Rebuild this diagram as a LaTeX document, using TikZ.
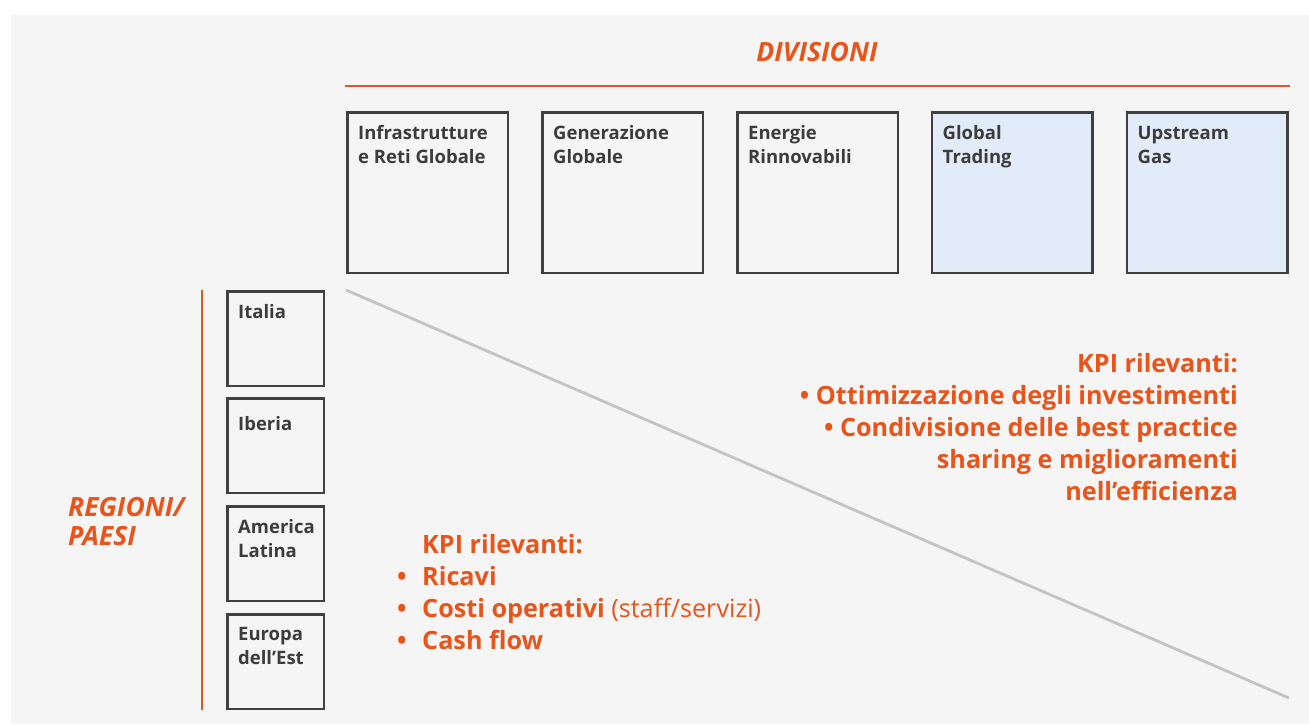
\documentclass[tikz,border=0pt]{standalone}
\usepackage{fontspec}
\setmainfont{Open Sans}

\definecolor{enelorange}{HTML}{E9541B}
\definecolor{boxgray}{HTML}{404040}
\definecolor{textgray}{HTML}{3C3C3C}
\definecolor{paper}{HTML}{F5F5F5}
\definecolor{divblue}{HTML}{E2ECF8}
\definecolor{rulegray}{HTML}{C4C4C4}

\begin{document}
\begin{tikzpicture}[
    x=1pt, y=-1pt,
    unitbox/.style={draw=boxgray, line width=2.5pt, fill=paper, inner sep=0pt},
    divbox/.style={unitbox, minimum width=160.5pt, minimum height=160.5pt},
    tradebox/.style={divbox, fill=divblue},
    regbox/.style={unitbox, minimum width=96.5pt, minimum height=94.5pt},
    boxtext/.style={anchor=base west, inner sep=0pt, align=left, text=textgray,
      font=\fontsize{18.5}{24}\selectfont\bfseries},
    heading/.style={inner sep=0pt, text=enelorange,
      font=\fontsize{26.5}{29}\selectfont\bfseries\itshape},
    kpi/.style={inner sep=0pt, text=enelorange,
      font=\fontsize{25.2}{32}\selectfont\bfseries},
    orangerule/.style={draw=enelorange, line width=2.6pt}
  ]

  % page and background
  \useasboundingbox (0,0) rectangle (1309,724);
  \fill[paper] (11,15) rectangle (1309,724);

  % divisions along the top
  \node[heading, anchor=base] (divtitle) at (817,61) {DIVISIONI};
  \coordinate (divl) at (345,86);
  \coordinate (divr) at (1290,86);
  \draw[orangerule] (divl) -- (divr);

  \node[divbox] (infra) at (427.5,192.5) {};
  \node[divbox] (gen) at (622.5,192.5) {};
  \node[divbox] (renew) at (817.5,192.5) {};
  \node[tradebox] (trading) at (1012,192.5) {};
  \node[tradebox] (upstream) at (1207,192.5) {};

  % base anchor sits on the last line, so two-line labels go 24pt lower
  \node[boxtext] at ([xshift=12pt,yshift=-52pt]infra.north west) {Infrastrutture\\e Reti Globale};
  \node[boxtext] at ([xshift=12pt,yshift=-52pt]gen.north west) {Generazione\\Globale};
  \node[boxtext] at ([xshift=12pt,yshift=-52pt]renew.north west) {Energie\\Rinnovabili};
  \node[boxtext] at ([xshift=12pt,yshift=-52pt]trading.north west) {Global\\Trading};
  \node[boxtext] at ([xshift=12pt,yshift=-52pt]upstream.north west) {Upstream\\Gas};

  % regions down the left side
  \node[heading, anchor=base west, align=left] (regtitle) at (68,545) {REGIONI/\\PAESI};
  \coordinate (regt) at (202,290);
  \coordinate (regb) at (202,710);
  \draw[orangerule] (regt) -- (regb);

  \node[regbox] (italia) at (275.5,338.5) {};
  \node[regbox] (iberia) at (275.5,445.5) {};
  \node[regbox] (latam) at (275.5,553.5) {};
  \node[regbox] (east) at (275.5,661.5) {};

  \node[boxtext] at ([xshift=12pt,yshift=-28pt]italia.north west) {Italia};
  \node[boxtext] at ([xshift=12pt,yshift=-33pt]iberia.north west) {Iberia};
  \node[boxtext] at ([xshift=12pt,yshift=-52pt]latam.north west) {America\\Latina};
  \node[boxtext] at ([xshift=12pt,yshift=-51pt]east.north west) {Europa\\dell’Est};

  % split between the two KPI areas
  \coordinate (splitl) at (346,290);
  \coordinate (splitr) at (1289,698);
  \draw[rulegray, line width=2.8pt] (splitl) -- (splitr);

  % KPI lists
  \node[kpi, anchor=base east, align=right] (divkpi) at (1238,500)
    {KPI rilevanti:\\• Ottimizzazione degli investimenti\\• Condivisione delle best practice\\sharing e miglioramenti\\nell’efficienza};

  \node[kpi, anchor=base west, align=left] (regkpi) at (397,649)
    {\hspace*{25pt}KPI rilevanti:\\
     \makebox[25pt][l]{•}Ricavi\\
     \makebox[25pt][l]{•}Costi operativi {\mdseries(staff/servizi)}\\
     \makebox[25pt][l]{•}Cash flow};

\end{tikzpicture}
\end{document}
